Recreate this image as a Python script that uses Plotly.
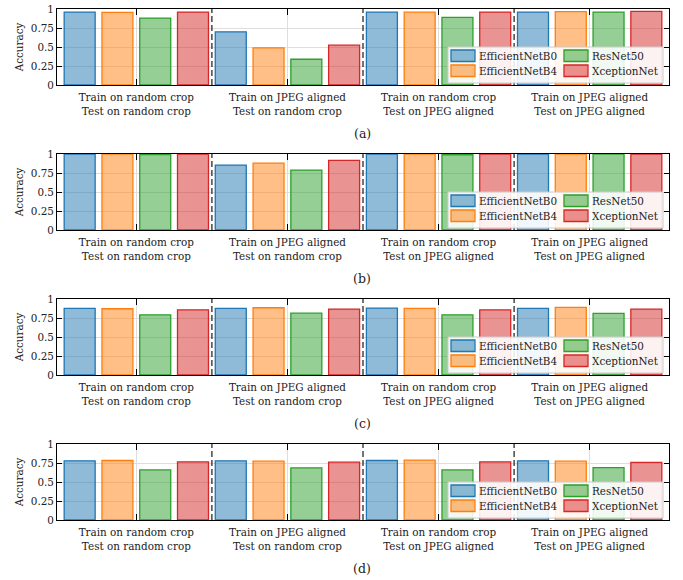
import plotly.graph_objects as go

# ---------------- data ----------------
groups = [
    "Train on random crop<br>Test on random crop",
    "Train on JPEG aligned<br>Test on random crop",
    "Train on random crop<br>Test on JPEG aligned",
    "Train on JPEG aligned<br>Test on JPEG aligned",
]
models = ["EfficientNetB0", "EfficientNetB4", "ResNet50", "XceptionNet"]
panel_labels = ["(a)", "(b)", "(c)", "(d)"]
ytick_vals = [0, 0.25, 0.5, 0.75, 1]
ytick_text = ["0", "0.25", "0.5", "0.75", "1"]

# panel (a)
a_effb0 = [0.960, 0.700, 0.960, 0.960]
a_effb4 = [0.956, 0.489, 0.960, 0.965]
a_resnet = [0.881, 0.339, 0.890, 0.960]
a_xcep = [0.960, 0.524, 0.960, 0.969]
# panel (b)
b_effb0 = [0.999, 0.854, 0.999, 0.999]
b_effb4 = [0.998, 0.881, 0.998, 0.999]
b_resnet = [0.991, 0.788, 0.990, 0.998]
b_xcep = [0.999, 0.916, 0.999, 0.999]
# panel (c)
c_effb0 = [0.876, 0.876, 0.880, 0.876]
c_effb4 = [0.872, 0.885, 0.876, 0.889]
c_resnet = [0.792, 0.814, 0.792, 0.810]
c_xcep = [0.858, 0.867, 0.858, 0.867]
# panel (d)
d_effb0 = [0.779, 0.779, 0.783, 0.779]
d_effb4 = [0.783, 0.774, 0.788, 0.774]
d_resnet = [0.659, 0.686, 0.659, 0.690]
d_xcep = [0.765, 0.761, 0.765, 0.757]

panels = [
    [a_effb0, a_effb4, a_resnet, a_xcep],
    [b_effb0, b_effb4, b_resnet, b_xcep],
    [c_effb0, c_effb4, c_resnet, c_xcep],
    [d_effb0, d_effb4, d_resnet, d_xcep],
]

edge_colors = ["#1f77b4", "#ff7f0e", "#2ca02c", "#d62728"]
fill_colors = ["rgba(31,119,180,0.5)", "rgba(255,127,14,0.5)",
               "rgba(44,160,44,0.5)", "rgba(214,39,40,0.5)"]

# ---------------- geometry (pixels) ----------------
W, H = 683, 580
ML, MR, MT, MB = 57, 14, 9, 60
PW = W - ML - MR
PH = H - MT - MB
panel_tops = [9, 154, 299, 444]
panel_h = 76

def px_x(px):
    return (px - ML) / PW

def px_y(py):
    return (H - MB - py) / PH

FONT = dict(family="DejaVu Serif", size=10.4, color="#222222")
LABEL_FONT = dict(family="DejaVu Serif", size=12.5, color="#222222")
GRID = "#dedede"

fig = go.Figure()
layout = dict(
    width=W, height=H,
    margin=dict(l=ML, r=MR, t=MT, b=MB, pad=0, autoexpand=False),
    paper_bgcolor="white", plot_bgcolor="white",
    font=FONT, showlegend=False,
    barmode="group", bargap=0.0, bargroupgap=0.18,
)
shapes = []
annotations = []

for i, vals in enumerate(panels):
    suf = "" if i == 0 else str(i + 1)
    xa, ya = "x" + suf, "y" + suf
    top = panel_tops[i]
    bot = top + panel_h
    for k, m in enumerate(models):
        fig.add_trace(go.Bar(
            x=list(range(len(groups))), y=vals[k], name=m,
            xaxis=xa, yaxis=ya,
            marker=dict(color=fill_colors[k],
                        line=dict(color=edge_colors[k], width=1.3)),
        ))
    layout["xaxis" + suf] = dict(
        domain=[0, 1], anchor=ya, range=[-0.525, 3.525], automargin=False,
        tickmode="array", tickvals=list(range(len(groups))), ticktext=groups,
        ticks="inside", ticklen=6, tickcolor="black", tickwidth=1,
        showline=True, linecolor="black", linewidth=1, mirror="ticks",
        showgrid=True, gridcolor=GRID, gridwidth=0.8, zeroline=False,
        tickfont=FONT, ticklabelstandoff=3,
    )
    layout["yaxis" + suf] = dict(
        domain=[px_y(bot), px_y(top)], anchor=xa, range=[0, 1], automargin=False,
        tickmode="array", tickvals=ytick_vals, ticktext=ytick_text,
        ticks="inside", ticklen=5, tickcolor="black", tickwidth=1,
        showline=True, linecolor="black", linewidth=1, mirror="ticks",
        showgrid=True, gridcolor=GRID, gridwidth=0.8, zeroline=False,
        tickfont=FONT,
        title=dict(text="Accuracy", font=FONT, standoff=5),
    )
    # dashed separators between groups
    for s in range(len(groups) - 1):
        shapes.append(dict(
            type="line", xref=xa, yref=ya + " domain",
            x0=s + 0.5, x1=s + 0.5, y0=0, y1=1,
            line=dict(color="#3a3a3a", width=1.4, dash="6px,3px"),
            layer="above",
        ))
    # legend (per panel, two columns)
    shapes.append(dict(
        type="rect", xref="paper", yref="paper",
        x0=px_x(448), x1=px_x(663), y0=px_y(bot - 2), y1=px_y(bot - 38),
        fillcolor="rgba(255,255,255,0.88)", line=dict(color="#cccccc", width=1),
        layer="above",
    ))
    order = [(0, 0, 0), (2, 1, 0), (1, 0, 1), (3, 1, 1)]  # (model, col, row)
    col_x = [451, 564]
    for k, col, row in order:
        sy0 = bot - 35 + row * 15
        shapes.append(dict(
            type="rect", xref="paper", yref="paper",
            x0=px_x(col_x[col]), x1=px_x(col_x[col] + 24),
            y0=px_y(sy0 + 11.5), y1=px_y(sy0),
            fillcolor=fill_colors[k], line=dict(color=edge_colors[k], width=1.3),
            layer="above",
        ))
        annotations.append(dict(
            xref="paper", yref="paper", x=px_x(col_x[col] + 26), y=px_y(sy0 + 5.8),
            text=models[k], showarrow=False, xanchor="left", yanchor="middle",
            font=FONT,
        ))
    annotations.append(dict(
        xref="paper", yref="paper", x=px_x(362), y=px_y(bot + 48),
        text=panel_labels[i], showarrow=False, xanchor="center", yanchor="middle",
        font=LABEL_FONT,
    ))

layout["shapes"] = shapes
layout["annotations"] = annotations
fig.update_layout(**layout)
fig.write_html("out.html", config={"displayModeBar": False},
               post_script="document.body.style.margin='0';")
